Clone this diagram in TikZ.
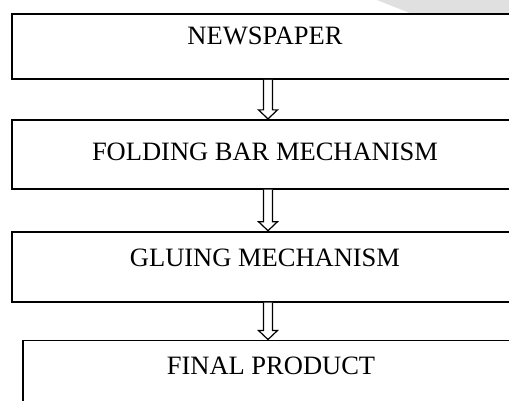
\documentclass[tikz,border=0pt]{standalone}
\usepackage{fontspec}
\setmainfont{Liberation Serif}
\usepackage{tikz}
\usetikzlibrary{positioning,calc}

\begin{document}
\begin{tikzpicture}[
  x=1pt, y=-1pt,
  stage/.style={draw, line width=1.8pt, fill=white, minimum width=506pt,
                text height=17.5pt, inner sep=0pt,
                font=\fontsize{26.5}{31}\selectfont},
  hollow/.style={draw, line width=1.2pt, fill=white, line join=miter}
]
\useasboundingbox (0,0) rectangle (509,401);
% faint backdrop in the upper right corner
\fill[black!12] (377,0) -- (509,0) -- (509,14) -- (412,14) -- cycle;

\node[stage, minimum height=65pt, text depth=22pt] (news) at (265,46.5) {NEWSPAPER};
\node[stage, below=39pt of news, minimum height=69pt, text depth=6pt] (fold) {FOLDING BAR MECHANISM};
\node[stage, below=41pt of fold, minimum height=70pt, text depth=17pt] (glue) {GLUING MECHANISM};
\node[stage, below=37pt of glue, xshift=6pt, minimum width=496pt,
      minimum height=85pt, text depth=34pt] (final) {FINAL PRODUCT};

% open block arrows between the stages
\foreach \a/\b/\d in {news/fold/3, fold/glue/3, glue/final/-3}
  \draw[hollow] let \p1=($(\a.south)+(3,0)$), \p2=($(\b.north)+(\d,0)$) in
    (\x1-4.5pt,\y1) -- (\x1-4.5pt,\y2+9pt) -- (\x1-9.5pt,\y2+9pt)
    -- (\x1,\y2) -- (\x1+9.5pt,\y2+9pt) -- (\x1+4.5pt,\y2+9pt) -- (\x1+4.5pt,\y1);
\end{tikzpicture}
\end{document}
